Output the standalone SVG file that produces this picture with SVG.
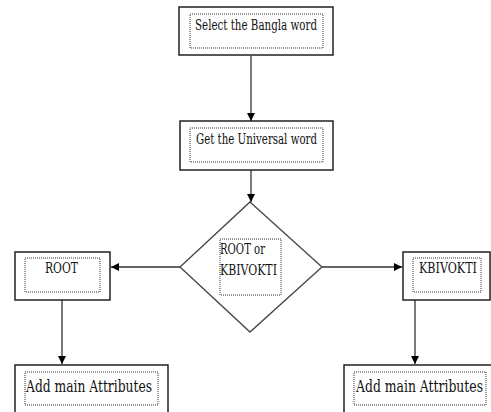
<svg xmlns="http://www.w3.org/2000/svg" width="491" height="412" viewBox="0 0 491 412">
<style>
.outer{fill:#fff;stroke:#222;stroke-width:1.5}
.inner{fill:none;stroke:#333;stroke-width:1;stroke-dasharray:1 1}
.t{font-family:"DejaVu Serif","Liberation Serif",serif;fill:#111}
.c{stroke:#333;stroke-width:1.3;fill:none}
</style>
<defs>
<marker id="ah" viewBox="0 0 10 10" refX="10" refY="5" markerWidth="8" markerHeight="8" markerUnits="userSpaceOnUse" orient="auto">
<path d="M0,0 L10,5 L0,10 z" fill="#000"/>
</marker>
</defs>
<rect width="491" height="412" fill="#fff"/>
<g id="connectors">
<line class="c" x1="251" y1="56" x2="251" y2="121" marker-end="url(#ah)"/>
<line class="c" x1="251" y1="170" x2="251" y2="202" marker-end="url(#ah)"/>
<line class="c" x1="180" y1="267" x2="111" y2="267" marker-end="url(#ah)"/>
<line class="c" x1="322" y1="267" x2="402" y2="267" marker-end="url(#ah)"/>
<line class="c" x1="62" y1="300" x2="62" y2="364" marker-end="url(#ah)"/>
<line class="c" x1="415" y1="300" x2="415" y2="364" marker-end="url(#ah)"/>
</g>
<g id="n1">
<rect class="outer" x="179" y="7" width="154" height="48"/>
<rect class="inner" x="190" y="14" width="133" height="34"/>
<text class="t" x="195" y="30" font-size="14" textLength="122" lengthAdjust="spacingAndGlyphs">Select the Bangla word</text>
</g>
<g id="n2">
<rect class="outer" x="180" y="121" width="153" height="49"/>
<rect class="inner" x="190" y="128" width="133" height="34"/>
<text class="t" x="196" y="144" font-size="14" textLength="121" lengthAdjust="spacingAndGlyphs">Get the Universal word</text>
</g>
<g id="n3">
<polygon points="250,202 322,267 250,332 180,267" fill="#fff" stroke="#444" stroke-width="1.3"/>
<rect class="inner" x="220" y="239" width="61" height="56"/>
<text class="t" x="220" y="254" font-size="15" textLength="45" lengthAdjust="spacingAndGlyphs">ROOT or</text>
<text class="t" x="220" y="275" font-size="15" textLength="57" lengthAdjust="spacingAndGlyphs">KBIVOKTI</text>
</g>
<g id="n4">
<rect class="outer" x="15" y="252" width="95" height="48"/>
<rect class="inner" x="25" y="258" width="75" height="34"/>
<text class="t" x="45" y="273" font-size="14" textLength="33" lengthAdjust="spacingAndGlyphs">ROOT</text>
</g>
<g id="n5">
<rect class="outer" x="403" y="252" width="87" height="48"/>
<rect class="inner" x="413" y="258" width="68" height="34"/>
<text class="t" x="419" y="273" font-size="14" textLength="58" lengthAdjust="spacingAndGlyphs">KBIVOKTI</text>
</g>
<g id="n6">
<rect class="outer" x="15" y="365" width="153" height="50"/>
<rect class="inner" x="25" y="372" width="133" height="33"/>
<text class="t" x="26" y="392" font-size="17" textLength="126" lengthAdjust="spacingAndGlyphs">Add main Attributes</text>
</g>
<g id="n7">
<rect class="outer" x="344" y="365" width="153" height="50"/>
<rect class="inner" x="354" y="372" width="132" height="33"/>
<text class="t" x="356" y="392" font-size="17" textLength="127" lengthAdjust="spacingAndGlyphs">Add main Attributes</text>
</g>
</svg>
